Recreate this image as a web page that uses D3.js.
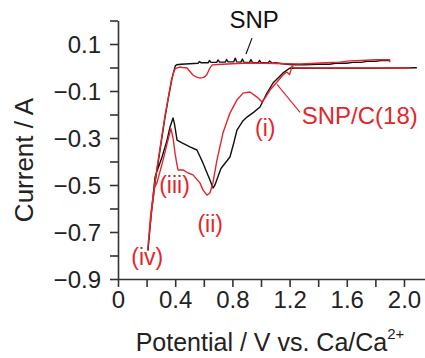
<!DOCTYPE html>
<html><head><meta charset="utf-8">
<script src="https://cdn.jsdelivr.net/npm/d3@7"></script>
<style>
html,body{margin:0;padding:0;background:#fff;}
svg{display:block;font-family:"Liberation Sans",Arial,sans-serif;}
</style></head>
<body>
<svg id="chart" width="425" height="358"></svg>
<script>
// ---- data (potential V, current A) ----
const xTicks = [0,0.2,0.4,0.6,0.8,1.0,1.2,1.4,1.6,1.8,2.0];
const xTickLabels = ["0","","0.4","","0.8","","1.2","","1.6","","2.0"];
const yTicks = [0.2,0.1,0,-0.1,-0.2,-0.3,-0.4,-0.5,-0.6,-0.7,-0.8,-0.9];
const yTickLabels = ["","0.1","","\u22120.1","","\u22120.3","","\u22120.5","","\u22120.7","","\u22120.9"];

const snpCurve = [
 [1.90,0.030],[1.84,0.030],[1.80,0.026],[1.74,0.026],[1.70,0.022],[1.64,0.022],[1.60,0.018],[1.52,0.018],
 [1.48,0.014],[1.40,0.014],[1.30,0.012],[1.22,0.012],[1.15,0.016],[1.10,0.020],[1.08,0.018],[1.06,0.028],
 [1.05,0.019],[1.00,0.021],[0.99,0.030],[0.98,0.020],[0.94,0.022],[0.93,0.034],[0.92,0.022],[0.88,0.023],
 [0.87,0.036],[0.86,0.023],[0.83,0.024],[0.82,0.040],[0.81,0.024],[0.77,0.024],[0.76,0.034],[0.75,0.023],
 [0.71,0.023],[0.70,0.032],[0.69,0.022],[0.65,0.022],[0.64,0.030],[0.63,0.020],[0.58,0.020],[0.57,0.026],
 [0.56,0.018],[0.50,0.016],[0.44,0.014],[0.41,0.012],[0.40,0.006],
 [0.378,-0.045],[0.35,-0.138],[0.329,-0.211],[0.294,-0.351],[0.259,-0.491],[0.231,-0.628],[0.21,-0.777],
 [0.215,-0.74],[0.235,-0.61],[0.259,-0.466],[0.308,-0.381],[0.343,-0.309],[0.364,-0.253],[0.385,-0.215],
 [0.395,-0.24],[0.413,-0.309],[0.448,-0.321],[0.503,-0.338],[0.552,-0.351],[0.594,-0.406],[0.643,-0.479],
 [0.664,-0.513],[0.678,-0.50],[0.72,-0.43],[0.783,-0.381],[0.81,-0.32],[0.832,-0.266],[0.87,-0.23],
 [0.902,-0.211],[0.95,-0.19],[0.993,-0.168],[1.042,-0.109],[1.084,-0.066],[1.154,-0.023],[1.203,-0.002],
 [1.40,-0.003],[1.80,-0.003],[2.09,-0.001]
];

const snpcCurve = [
 [1.90,0.022],[1.90,0.033],[1.80,0.033],[1.70,0.030],[1.62,0.028],[1.55,0.023],[1.45,0.020],[1.35,0.017],
 [1.27,0.015],[1.10,0.017],[0.92,0.019],[0.80,0.016],[0.70,0.013],[0.66,0.011],[0.64,-0.005],[0.62,-0.032],
 [0.60,-0.042],[0.573,-0.045],[0.545,-0.040],[0.524,-0.032],[0.50,-0.015],[0.483,-0.002],[0.45,0.000],
 [0.43,0.002],[0.40,-0.005],[0.39,-0.020],
 [0.375,-0.05],[0.348,-0.14],[0.326,-0.215],[0.291,-0.355],[0.256,-0.495],[0.228,-0.63],[0.208,-0.775],
 [0.213,-0.74],[0.233,-0.62],[0.256,-0.51],[0.273,-0.49],[0.315,-0.394],[0.345,-0.32],[0.37,-0.26],
 [0.385,-0.30],[0.40,-0.37],[0.413,-0.415],[0.42,-0.436],[0.455,-0.436],[0.49,-0.449],[0.524,-0.457],
 [0.573,-0.491],[0.594,-0.521],[0.622,-0.543],[0.643,-0.534],[0.664,-0.491],[0.692,-0.394],[0.734,-0.279],
 [0.783,-0.194],[0.832,-0.138],[0.874,-0.109],[0.923,-0.104],[0.972,-0.126],[1.007,-0.147],[1.028,-0.13],
 [1.063,-0.096],[1.112,-0.062],[1.154,-0.032],[1.18,-0.019],[1.20,-0.03],[1.217,0.006],[1.23,-0.002],
 [1.60,-0.002],[2.05,-0.002]
];

// annotations: [text, potential, current, color]
const seriesLabels = [["SNP",0.78,0.17,"#111"],["SNP/C(18)",1.285,-0.24,"#e3262b"]];
const peakLabels = [["(i)",1.03,-0.29],["(ii)",0.645,-0.70],["(iii)",0.395,-0.533],["(iv)",0.205,-0.84]];

// ---- layout ----
const svg = d3.select("#chart");
const x = d3.scaleLinear().domain([0,2.147]).range([118,425]);
const y = d3.scaleLinear().domain([-0.9,0.2]).range([279,20.5]);
const axisColor = "#333";
const red = "#e3262b";

// axes
const xAxis = d3.axisBottom(x).tickValues(xTicks).tickSize(8).tickSizeOuter(0)
  .tickFormat((d,i)=>xTickLabels[i]);
const gx = svg.append("g").attr("transform","translate(0,279)").call(xAxis);
gx.select(".domain").attr("stroke",axisColor).attr("stroke-width",1.6);
gx.selectAll(".tick line").attr("stroke",axisColor).attr("stroke-width",1.6);
gx.selectAll(".tick text").attr("fill","#222").attr("font-size",24)
  .attr("font-family","Liberation Sans, Arial, sans-serif").attr("y",12).attr("dy","0.71em");

const yAxis = d3.axisLeft(y).tickValues(yTicks).tickSize(8).tickSizeOuter(0)
  .tickFormat((d,i)=>yTickLabels[i]);
const gy = svg.append("g").attr("transform","translate(118,0)").call(yAxis);
gy.select(".domain").attr("stroke",axisColor).attr("stroke-width",1.6);
gy.selectAll(".tick line").attr("stroke",axisColor).attr("stroke-width",1.6);
gy.selectAll(".tick text").attr("fill","#222").attr("font-size",24)
  .attr("font-family","Liberation Sans, Arial, sans-serif").attr("x",-17).attr("dy","0.35em");

// titles
svg.append("text").attr("transform","translate(33,160) rotate(-90)")
  .attr("text-anchor","middle").attr("font-size",26).attr("fill","#222").text("Current / A");
const xt = svg.append("text").attr("x",270).attr("y",351).attr("text-anchor","middle")
  .attr("font-size",25).attr("fill","#222");
xt.append("tspan").text("Potential / V vs. Ca/Ca");
xt.append("tspan").attr("dy",-12).attr("font-size",15).text("2+");

// curves
const line = d3.line().x(d=>x(d[0])).y(d=>y(d[1]));
svg.append("path").datum(snpCurve).attr("d",line).attr("fill","none")
  .attr("stroke","#111").attr("stroke-width",1.4).attr("stroke-linejoin","round");
svg.append("path").datum(snpcCurve).attr("d",line).attr("fill","none")
  .attr("stroke",red).attr("stroke-width",1.4).attr("stroke-linejoin","round");

// leader lines
svg.append("line").attr("x1",x(0.937)).attr("y1",y(0.125)).attr("x2",x(0.895)).attr("y2",y(0.057))
  .attr("stroke","#111").attr("stroke-width",1.2);
svg.append("line").attr("x1",x(1.273)).attr("y1",y(-0.191)).attr("x2",x(1.112)).attr("y2",y(-0.072))
  .attr("stroke",red).attr("stroke-width",1.2);

// labels
svg.selectAll(".slab").data(seriesLabels).join("text").attr("class","slab")
  .attr("x",d=>x(d[1])).attr("y",d=>y(d[2])).attr("font-size",24).attr("fill",d=>d[3]).text(d=>d[0]);
svg.selectAll(".plab").data(peakLabels).join("text").attr("class","plab")
  .attr("x",d=>x(d[1])).attr("y",d=>y(d[2])).attr("text-anchor","middle")
  .attr("font-size",23).attr("fill",red).text(d=>d[0]);
</script>
</body></html>
